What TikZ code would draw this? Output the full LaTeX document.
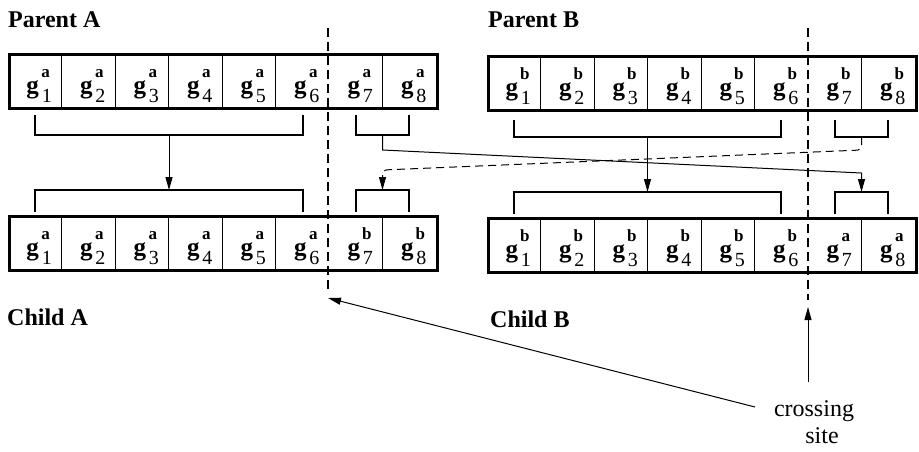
\documentclass[tikz,border=0pt]{standalone}
\usepackage{fontspec}
\setmainfont{Liberation Serif}
\usetikzlibrary{arrows.meta,calc}
\begin{document}
\begin{tikzpicture}[x=1pt,y=-1pt,
  chrom/.style={draw, line width=2.6pt, minimum width=428pt, minimum height=54pt, inner sep=0pt, anchor=north west},
  divline/.style={line width=0.9pt},
  brk/.style={line width=1.3pt},
  conn/.style={line width=1pt, -{Triangle[length=13pt,width=7pt]}},
  dconn/.style={conn, dash pattern=on 8pt off 5pt, rounded corners=4pt},
  cut/.style={line width=1.8pt, dash pattern=on 9pt off 5pt},
  gl/.style={anchor=base, font=\fontsize{25}{25}\selectfont\bfseries, inner sep=0pt},
  supl/.style={anchor=base, font=\fontsize{17}{17}\selectfont\bfseries, inner sep=0pt},
  subl/.style={anchor=base, font=\fontsize{20}{20}\selectfont, inner sep=0pt},
  titlel/.style={anchor=base west, font=\fontsize{24}{24}\selectfont\bfseries, inner sep=0pt},
  plainl/.style={anchor=base, font=\fontsize{24}{24}\selectfont, inner sep=0pt}]
\useasboundingbox (0,0) rectangle (919,451);

% chromosomes
\foreach \nm/\xo/\yo/\sups in {PA/8/53/{a,a,a,a,a,a,a,a},PB/487/55/{b,b,b,b,b,b,b,b},CA/8/215/{a,a,a,a,a,a,b,b},CB/487/217/{b,b,b,b,b,b,a,a}}{
  \foreach \k in {1,2,3,4,5,7}
    \draw[divline] (\xo+53.5*\k,\yo) -- (\xo+53.5*\k,\yo+54);
  \node[chrom] (\nm) at (\xo,\yo) {};
  \foreach \s [count=\i] in \sups {
    \pgfmathsetmacro\cx{\xo+53.5*(\i-0.5)}
    \node[gl] (\nm-g\i) at (\cx-2,\yo+40) {g};
    \node[supl] (\nm-a\i) at (\cx+11,\yo+24) {\s};
    \node[subl] (\nm-n\i) at (\cx+12,\yo+49) {\i};
  }
}

% crossing site cut lines
\coordinate (cutAtop) at (328,28);
\coordinate (cutAbot) at (328,293);
\coordinate (cutBtop) at (808,28);
\coordinate (cutBbot) at (808,300);
\draw[cut] (cutAtop) -- (cutAbot);
\draw[cut] (cutBtop) -- (cutBbot);

% brackets parent A
\draw[brk] (35,115) -- (35,135) -- (303,135) -- (303,115);
\draw[brk] (356,115) -- (356,135) -- (409,135) -- (409,115);
% brackets parent B
\draw[brk] (514,120) -- (514,137) -- (781,137) -- (781,120);
\draw[brk] (835,120) -- (835,137) -- (888,137) -- (888,120);
% brackets child A
\draw[brk] (35,212) -- (35,190) -- (303,190) -- (303,212);
\draw[brk] (356,212) -- (356,190) -- (409,190) -- (409,212);
% brackets child B
\draw[brk] (514,214) -- (514,192) -- (781,192) -- (781,214);
\draw[brk] (835,214) -- (835,192) -- (888,192) -- (888,214);

\coordinate (pAL) at (169,135);
\coordinate (pAR) at (382.5,135);
\coordinate (pBL) at (647.5,137);
\coordinate (pBR) at (861.5,137);
\coordinate (cAL) at (169,190);
\coordinate (cAR) at (382.5,190);
\coordinate (cBL) at (647.5,192);
\coordinate (cBR) at (861.5,192);

\draw[conn] (pAL) -- (cAL);
\draw[conn] (pBL) -- (cBL);
\draw[conn] (pAR) -- (382.5,150) -- (861.5,173) -- (cBR);
\draw[dconn] (pBR) -- (861.5,150) -- (382.5,170) -- (cAR);

% labels
\node[titlel] (parentA) at (8,27) {Parent A};
\node[titlel] (parentB) at (488,27) {Parent B};
\node[titlel] (childA) at (7,325) {Child A};
\node[titlel] (childB) at (490,327) {Child B};
\node[plainl] (cs1) at (814,416) {crossing};
\node[plainl] (cs2) at (822,443) {site};

% pointers to crossing sites
\coordinate (tailB) at (808,382);
\coordinate (tipB) at (808,307);
\coordinate (tailA) at (755,407);
\coordinate (tipA) at (328,298);
\draw[conn] (tailB) -- (tipB);
\draw[conn] (tailA) -- (tipA);
\end{tikzpicture}
\end{document}
